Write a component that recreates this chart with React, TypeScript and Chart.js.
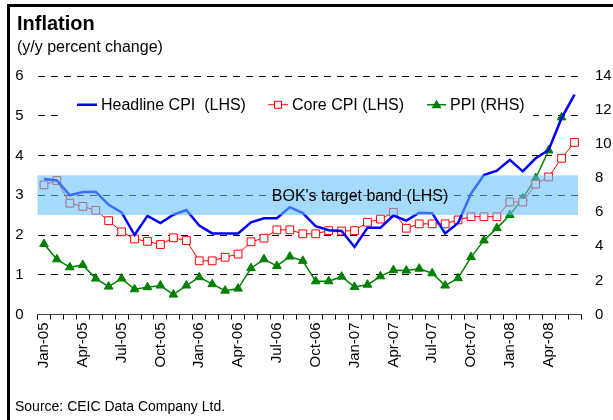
import React, { useEffect, useRef } from 'react';
import { Chart, registerables } from 'chart.js';

Chart.register(...registerables);

const FONT = "'Liberation Sans', Arial, Helvetica, sans-serif";

const months = [
  'Jan-05', 'Feb-05', 'Mar-05', 'Apr-05', 'May-05', 'Jun-05', 'Jul-05', 'Aug-05', 'Sep-05', 'Oct-05', 'Nov-05', 'Dec-05',
  'Jan-06', 'Feb-06', 'Mar-06', 'Apr-06', 'May-06', 'Jun-06', 'Jul-06', 'Aug-06', 'Sep-06', 'Oct-06', 'Nov-06', 'Dec-06',
  'Jan-07', 'Feb-07', 'Mar-07', 'Apr-07', 'May-07', 'Jun-07', 'Jul-07', 'Aug-07', 'Sep-07', 'Oct-07', 'Nov-07', 'Dec-07',
  'Jan-08', 'Feb-08', 'Mar-08', 'Apr-08', 'May-08', 'Jun-08',
];

const headlineCPI = [
  3.41, 3.37, 3.0, 3.08, 3.09, 2.76, 2.57, 2.0, 2.48, 2.3, 2.51, 2.63,
  2.24, 2.04, 2.04, 2.04, 2.32, 2.42, 2.42, 2.7, 2.55, 2.22, 2.12, 2.1,
  1.7, 2.18, 2.18, 2.49, 2.36, 2.56, 2.55, 2.04, 2.3, 3.04, 3.51, 3.62,
  3.89, 3.6, 3.93, 4.14, 4.94, 5.53,
];

const coreCPI = [
  3.26, 3.37, 2.8, 2.72, 2.62, 2.36, 2.08, 1.9, 1.84, 1.76, 1.93, 1.86,
  1.35, 1.35, 1.44, 1.52, 1.83, 1.92, 2.13, 2.13, 2.03, 2.03, 2.11, 2.1,
  2.11, 2.32, 2.4, 2.57, 2.17, 2.28, 2.28, 2.28, 2.38, 2.46, 2.46, 2.46,
  2.83, 2.83, 3.28, 3.46, 3.93, 4.33,
];

const ppi = [
  4.14, 3.24, 2.77, 2.91, 2.11, 1.64, 2.11, 1.48, 1.6, 1.7, 1.17, 1.7,
  2.19, 1.78, 1.4, 1.52, 2.72, 3.24, 2.85, 3.4, 3.15, 1.95, 1.95, 2.22,
  1.62, 1.75, 2.24, 2.6, 2.58, 2.69, 2.42, 1.7, 2.13, 3.37, 4.35, 5.07,
  5.84, 6.83, 8.0, 9.63, 11.57, null,
];

const leftTicks = [0, 6, 1];
const rightTicks = [0, 14, 2];
const targetBand = [2.5, 3.5];

const titleText = 'Inflation';
const subtitleText = '(y/y percent change)';
const sourceText = 'Source: CEIC Data Company Ltd.';
const bandLabel = "BOK's target band (LHS)";
const legendLabels = ['Headline CPI  (LHS)', 'Core CPI (LHS)', 'PPI (RHS)'];

export default function App() {
  const ref = useRef<HTMLCanvasElement>(null);

  useEffect(() => {
    const overlay = {
      id: 'overlay',
      beforeDatasetsDraw(chart: any) {
        const ctx = chart.ctx;
        const y5 = chart.scales.y.getPixelForValue(5);
        const ly = y5 - 11;
        ctx.save();
        ctx.fillStyle = '#ffffff';
        ctx.fillRect(62, ly - 14, 471, 30);
        ctx.font = `16px ${FONT}`;
        ctx.textBaseline = 'middle';
        ctx.fillStyle = '#000';
        // item 1
        ctx.strokeStyle = '#0000ff';
        ctx.lineWidth = 2.5;
        ctx.beginPath();
        ctx.moveTo(77, ly);
        ctx.lineTo(97, ly);
        ctx.stroke();
        ctx.fillText(legendLabels[0], 101, ly + 1);
        // item 2
        ctx.strokeStyle = '#ff0000';
        ctx.lineWidth = 1;
        ctx.beginPath();
        ctx.moveTo(268, ly);
        ctx.lineTo(288, ly);
        ctx.stroke();
        ctx.fillStyle = '#fff';
        ctx.fillRect(274.5, ly - 3.5, 7, 7);
        ctx.strokeRect(274.5, ly - 3.5, 7, 7);
        ctx.fillStyle = '#000';
        ctx.fillText(legendLabels[1], 292, ly + 1);
        // item 3
        ctx.strokeStyle = '#008000';
        ctx.lineWidth = 1.5;
        ctx.beginPath();
        ctx.moveTo(427, ly);
        ctx.lineTo(446, ly);
        ctx.stroke();
        ctx.fillStyle = '#008000';
        ctx.beginPath();
        ctx.moveTo(436.5, ly - 5);
        ctx.lineTo(441.5, ly + 3.5);
        ctx.lineTo(431.5, ly + 3.5);
        ctx.closePath();
        ctx.fill();
        ctx.fillStyle = '#000';
        ctx.fillText(legendLabels[2], 450, ly + 1);
        ctx.restore();
      },
      afterDatasetsDraw(chart: any) {
        const ctx = chart.ctx;
        const area = chart.chartArea;
        const ys = chart.scales.y;
        const top = ys.getPixelForValue(targetBand[1]);
        const bot = ys.getPixelForValue(targetBand[0]);
        ctx.save();
        ctx.fillStyle = 'rgba(100,192,248,0.58)';
        ctx.fillRect(area.left, top, area.right - 3 - area.left, bot - top);
        ctx.font = `16px ${FONT}`;
        ctx.fillStyle = '#000';
        ctx.textAlign = 'center';
        ctx.textBaseline = 'middle';
        ctx.fillText(bandLabel, 360, ys.getPixelForValue(3) + 1);
        ctx.restore();
      },
    };

    const chart = new Chart(ref.current as HTMLCanvasElement, {
      type: 'line',
      data: {
        labels: months,
        datasets: [
          {
            label: legendLabels[0],
            data: headlineCPI,
            yAxisID: 'y',
            borderColor: '#0000ff',
            backgroundColor: '#0000ff',
            borderWidth: 2.5,
            pointRadius: 0,
            tension: 0,
          },
          {
            label: legendLabels[1],
            data: coreCPI,
            yAxisID: 'y',
            borderColor: '#ff0000',
            backgroundColor: '#ffffff',
            borderWidth: 1,
            pointStyle: 'rect',
            pointRadius: 5.5,
            pointBorderWidth: 1,
            pointBorderColor: '#ff0000',
            pointBackgroundColor: '#ffffff',
            tension: 0,
          },
          {
            label: legendLabels[2],
            data: ppi,
            yAxisID: 'y1',
            borderColor: '#008000',
            backgroundColor: '#008000',
            borderWidth: 1.5,
            pointStyle: 'triangle',
            pointRadius: 5,
            pointBorderWidth: 1,
            pointBorderColor: '#008000',
            pointBackgroundColor: '#008000',
            tension: 0,
            spanGaps: false,
          },
        ],
      },
      options: {
        responsive: false,
        animation: false,
        devicePixelRatio: 1,
        layout: { padding: { top: 76, left: 0, right: 0, bottom: 0 } },
        plugins: {
          legend: { display: false },
          title: { display: false },
          tooltip: { enabled: false },
        },
        scales: {
          x: {
            type: 'category',
            offset: true,
            grid: {
              offset: true,
              drawOnChartArea: false,
              drawTicks: true,
              tickLength: 5,
              color: '#000',
            },
            border: { display: true, color: '#444' },
            ticks: {
              autoSkip: false,
              maxRotation: 90,
              minRotation: 90,
              padding: 3,
              color: '#000',
              font: { family: FONT, size: 15 },
              callback: (_v: any, i: number) => (i % 3 === 0 ? months[i] : ''),
            },
            afterFit: (s: any) => {
              s.height = 105.5;
            },
          },
          y: {
            position: 'left',
            min: leftTicks[0],
            max: leftTicks[1],
            ticks: {
              stepSize: leftTicks[2],
              padding: 14,
              color: '#000',
              font: { family: FONT, size: 15 },
            },
            grid: { color: '#000', lineWidth: 1, drawTicks: false },
            border: { display: false, dash: [7, 6] },
            afterFit: (s: any) => {
              s.width = 37.5;
            },
          },
          y1: {
            position: 'right',
            min: rightTicks[0],
            max: rightTicks[1],
            ticks: {
              stepSize: rightTicks[2],
              padding: 14,
              color: '#000',
              font: { family: FONT, size: 15 },
            },
            grid: { display: false, drawTicks: false },
            border: { display: false },
            afterFit: (s: any) => {
              s.width = 32;
            },
          },
        },
      },
      plugins: [overlay],
    } as any);
    return () => chart.destroy();
  }, []);

  return (
    <div
      style={{
        position: 'absolute',
        left: 0,
        top: 0,
        width: 613,
        height: 420,
        background: '#fff',
        overflow: 'hidden',
        fontFamily: FONT,
      }}
    >
      <div style={{ position: 'absolute', left: 7, top: 4, width: 606, height: 3, background: '#000' }} />
      <div style={{ position: 'absolute', left: 7, top: 4, width: 3, height: 416, background: '#000' }} />
      <canvas ref={ref} width={613} height={420} style={{ position: 'absolute', left: 0, top: 0 }} />
      <div style={{ position: 'absolute', left: 17, top: 13, fontSize: 20, lineHeight: '20px', fontWeight: 'bold', color: '#000', whiteSpace: 'nowrap' }}>
        {titleText}
      </div>
      <div style={{ position: 'absolute', left: 17, top: 39, fontSize: 16, lineHeight: '16px', color: '#000', whiteSpace: 'nowrap' }}>
        {subtitleText}
      </div>
      <div style={{ position: 'absolute', left: 15, top: 399, fontSize: 14, lineHeight: '14px', color: '#000', whiteSpace: 'nowrap' }}>
        {sourceText}
      </div>
    </div>
  );
}
